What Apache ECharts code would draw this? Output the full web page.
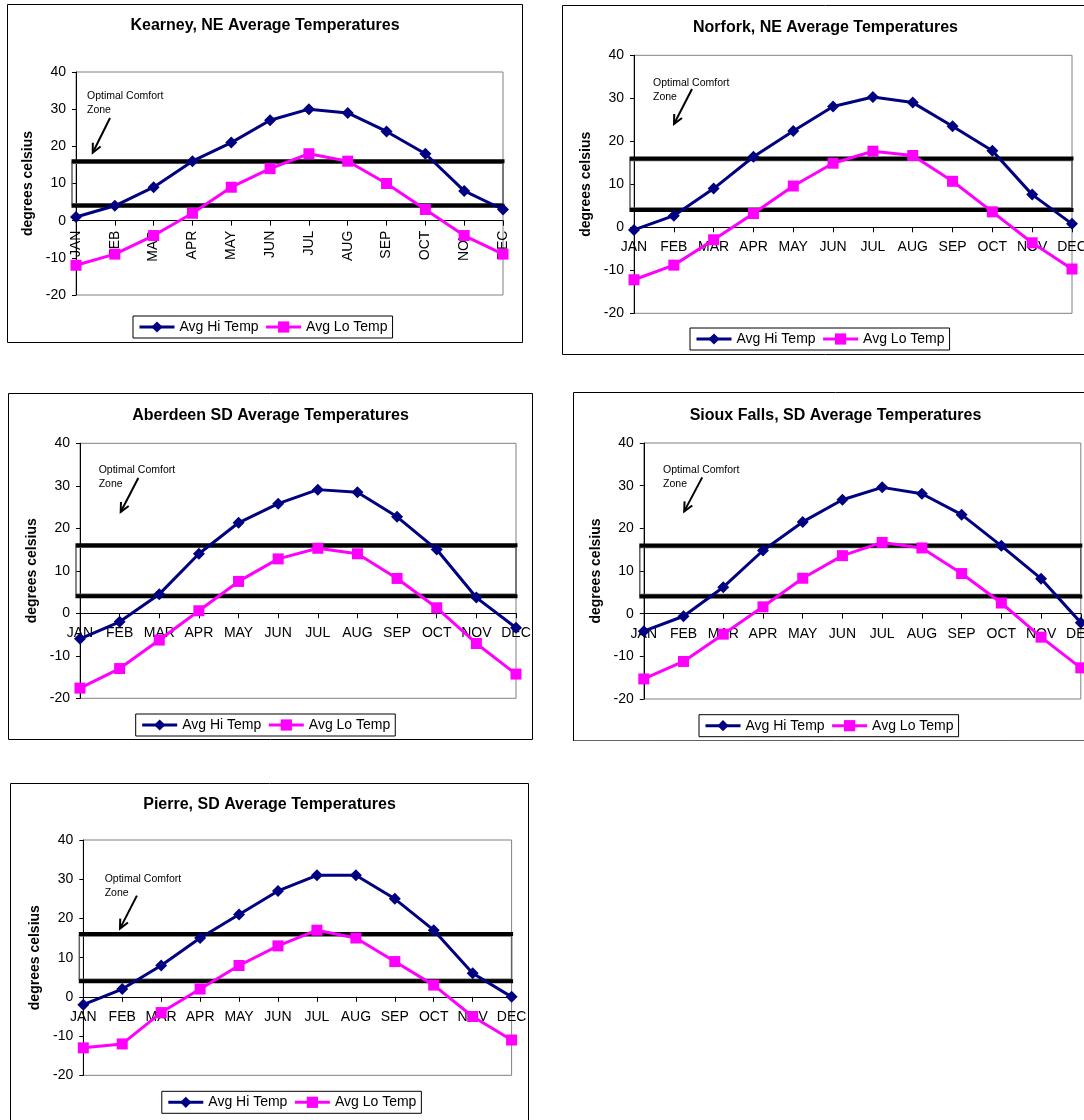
<!DOCTYPE html>
<html><head><meta charset="utf-8">
<script src="https://cdn.jsdelivr.net/npm/echarts@6/dist/echarts.min.js"></script>
<style>
html,body{margin:0;padding:0;background:#fff;}
body{width:1084px;height:1120px;overflow:hidden;position:relative;}
.box{position:absolute;}
</style>
</head><body>
<div id="c0" class="box"></div>
<div id="c1" class="box"></div>
<div id="c2" class="box"></div>
<div id="c3" class="box"></div>
<div id="c4" class="box"></div>
<script>
// ---------- DATA ----------
const months = ['JAN','FEB','MAR','APR','MAY','JUN','JUL','AUG','SEP','OCT','NOV','DEC'];
const seriesNames = ['Avg Hi Temp', 'Avg Lo Temp'];
const yAxisName = 'degrees celsius';
const annotationText = 'Optimal Comfort\nZone';
const comfortUpper = 16;
const comfortLower = 4;
const yMin = -20, yMax = 40, yStep = 10;

const kearneyTitle = 'Kearney, NE Average Temperatures';
const kearneyHi = [1, 4, 9, 16, 21, 27, 30, 29, 24, 18, 8, 3];
const kearneyLo = [-12, -9, -4, 2, 9, 14, 18, 16, 10, 3, -4, -9];

const norforkTitle = 'Norfork, NE Average Temperatures';
const norforkHi = [-0.6, 2.7, 9.0, 16.4, 22.4, 28.1, 30.3, 29.0, 23.5, 17.8, 7.6, 0.8];
const norforkLo = [-12.2, -8.8, -2.9, 3.2, 9.6, 14.9, 17.7, 16.7, 10.7, 3.6, -3.6, -9.7];

const aberdeenTitle = 'Aberdeen SD Average Temperatures';
const aberdeenHi = [-6.0, -2.0, 4.5, 14.0, 21.3, 25.8, 29.1, 28.5, 22.7, 15.0, 3.7, -3.4];
const aberdeenLo = [-17.6, -13.0, -6.3, 0.6, 7.5, 12.8, 15.3, 14.0, 8.2, 1.3, -7.1, -14.3];

const siouxTitle = 'Sioux Falls, SD Average Temperatures';
const siouxHi = [-4.1, -0.6, 6.2, 14.8, 21.5, 26.7, 29.6, 28.1, 23.2, 15.9, 8.2, -2.1];
const siouxLo = [-15.3, -11.2, -4.8, 1.6, 8.3, 13.6, 16.7, 15.4, 9.4, 2.5, -5.5, -12.7];

const pierreTitle = 'Pierre, SD Average Temperatures';
const pierreHi = [-2, 2, 8, 15, 21, 27, 31, 31, 25, 17, 6, 0];
const pierreLo = [-13, -12, -4, 2, 8, 13, 17, 15, 9, 3, -5, -11];

// ---------- LAYOUT (pixels, relative to each chart frame) ----------
const layouts = [
  {id:'c0', title:kearneyTitle, hi:kearneyHi, lo:kearneyLo, box:{x:7,y:4,w:516,h:339},
   grid:{l:69,t:68,w:427,h:223}, titleTop:14, legend:{l:126,t:312}, rotate:true,
   annot:{x:11,y:23.7}, arrow:{sx:34,sy:46,ex:16.7,ey:80.7}},
  {id:'c1', title:norforkTitle, hi:norforkHi, lo:norforkLo, box:{x:562,y:5,w:527,h:350},
   grid:{l:72,t:50.3,w:438,h:258}, titleTop:14.7, legend:{l:128,t:323}, rotate:false,
   annot:{x:19,y:28}, arrow:{sx:58,sy:33.7,ex:40,ey:68.7}},
  {id:'c2', title:aberdeenTitle, hi:aberdeenHi, lo:aberdeenLo, box:{x:8,y:393,w:525,h:347},
   grid:{l:72,t:50.3,w:436,h:255}, titleTop:15, legend:{l:127.7,t:321}, rotate:false,
   annot:{x:18.7,y:27}, arrow:{sx:58.3,sy:34.7,ex:40.7,ey:68.7}},
  {id:'c3', title:siouxTitle, hi:siouxHi, lo:siouxLo, box:{x:572.5,y:392.3,w:525,h:349.4},
   grid:{l:70.8,t:51,w:437,h:256}, titleTop:15.7, legend:{l:126,t:322.7}, rotate:false,
   annot:{x:19.3,y:27}, arrow:{sx:58.4,sy:34.4,ex:40.4,ey:68.4}},
  {id:'c4', title:pierreTitle, hi:pierreHi, lo:pierreLo, box:{x:10,y:782.7,w:519,h:345},
   grid:{l:73.3,t:57,w:428.3,h:235.3}, titleTop:13.6, legend:{l:151.8,t:308.3}, rotate:false,
   annot:{x:21.4,y:39}, arrow:{sx:53.6,sy:55.6,ex:36.7,ey:88.6}}
];

const FONT = 'Liberation Sans, Arial, sans-serif';
const HI_COLOR = '#000080';
const LO_COLOR = '#FF00FF';

function buildOption(L) {
  return {
    animation: false,
    textStyle: {fontFamily: FONT},
    title: {
      text: L.title, left: 'center', top: L.titleTop, padding: 0,
      textStyle: {fontFamily: FONT, fontSize: 16, fontWeight: 'bold', color: '#000', lineHeight: 16}
    },
    legend: {
      data: seriesNames, left: L.legend.l, top: L.legend.t, orient: 'horizontal',
      padding: [4, 5], itemGap: 6, itemWidth: 35, itemHeight: 14,
      borderColor: '#000', borderWidth: 1, backgroundColor: '#fff',
      lineStyle: {width: 3},
      textStyle: {fontFamily: FONT, fontSize: 14, color: '#000'}
    },
    grid: {
      left: L.grid.l, top: L.grid.t, width: L.grid.w, height: L.grid.h,
      show: true, borderColor: '#808080', borderWidth: 1, backgroundColor: '#fff',
      containLabel: false, outerBoundsMode: 'none'
    },
    xAxis: {
      type: 'category', data: months, boundaryGap: false, position: 'bottom', offset: 0,
      axisLine: {show: true, onZero: false, lineStyle: {color: '#000', width: 1}},
      axisTick: {show: true, length: 5, inside: false, alignWithLabel: true, lineStyle: {color: '#000'}},
      axisLabel: {interval: 0, rotate: L.rotate ? 90 : 0, margin: L.rotate ? 10 : 13,
                  hideOverlap: false, overflow: 'none',
                  fontFamily: FONT, fontSize: 14, color: '#000'},
      splitLine: {show: false}
    },
    yAxis: {
      type: 'value', min: yMin, max: yMax, interval: yStep,
      name: yAxisName, nameLocation: 'middle', nameGap: 40, nameRotate: 90,
      nameTextStyle: {fontFamily: FONT, fontSize: 14, fontWeight: 'bold', color: '#000'},
      axisLine: {show: true, lineStyle: {color: '#000', width: 1}},
      axisTick: {show: true, length: 4, inside: false, lineStyle: {color: '#000'}},
      axisLabel: {fontFamily: FONT, fontSize: 14, color: '#000', margin: 10},
      splitLine: {show: false}
    },
    series: [
      {name: seriesNames[0], type: 'line', data: L.hi, symbol: 'diamond', symbolSize: 12,
       lineStyle: {color: HI_COLOR, width: 3}, itemStyle: {color: HI_COLOR}, z: 3},
      {name: seriesNames[1], type: 'line', data: L.lo, symbol: 'rect', symbolSize: 11,
       lineStyle: {color: LO_COLOR, width: 3}, itemStyle: {color: LO_COLOR}, z: 3}
    ]
  };
}

function arrowHead(ex, ey, sx, sy, len, ang) {
  const dx = sx - ex, dy = sy - ey;
  const d = Math.sqrt(dx*dx + dy*dy);
  const ux = dx / d, uy = dy / d;
  const c = Math.cos(ang), s = Math.sin(ang);
  const a1 = [ex + len*(ux*c - uy*s), ey + len*(ux*s + uy*c)];
  const a2 = [ex + len*(ux*c + uy*s), ey + len*(-ux*s + uy*c)];
  return [a1, [ex, ey], a2];
}

layouts.forEach(function (L) {
  const el = document.getElementById(L.id);
  el.style.left = L.box.x + 'px';
  el.style.top = L.box.y + 'px';
  el.style.width = L.box.w + 'px';
  el.style.height = L.box.h + 'px';
  const chart = echarts.init(el, null, {renderer: 'canvas'});
  chart.setOption(buildOption(L));

  // move the category axis (line, ticks, labels) up to the zero line via the value scale
  const yZero = chart.convertToPixel({yAxisIndex: 0}, 0);
  const yBottom = chart.convertToPixel({yAxisIndex: 0}, yMin);
  chart.setOption({xAxis: {offset: -(yBottom - yZero)}});

  const yUp = chart.convertToPixel({yAxisIndex: 0}, comfortUpper);
  const yLo = chart.convertToPixel({yAxisIndex: 0}, comfortLower);
  const x0 = L.grid.l - 4.5;
  const x1 = L.grid.l + L.grid.w + 1.5;
  const gx = L.grid.l, gy = L.grid.t;
  const A = L.arrow;
  const sx = gx + A.sx, sy = gy + A.sy, ex = gx + A.ex, ey = gy + A.ey;

  chart.setOption({
    graphic: [
      {type: 'rect', z: 100, silent: true,
       shape: {x: 0.5, y: 0.5, width: L.box.w - 1, height: L.box.h - 1},
       style: {fill: null, stroke: '#000', lineWidth: 1}},
      {type: 'rect', z: 1, silent: true,
       shape: {x: x0 + 0.5, y: yUp + 2, width: x1 - x0 - 2, height: yLo - yUp - 4},
       style: {fill: null, stroke: '#606060', lineWidth: 1.5}},
      {type: 'line', z: 1, silent: true,
       shape: {x1: x0, y1: yUp, x2: x1, y2: yUp},
       style: {stroke: '#000', lineWidth: 4}},
      {type: 'line', z: 1, silent: true,
       shape: {x1: x0, y1: yLo, x2: x1, y2: yLo},
       style: {stroke: '#000', lineWidth: 4}},
      {type: 'text', z: 5, silent: true,
       x: gx + L.annot.x, y: gy + L.annot.y - 7,
       style: {text: annotationText, font: '10.5px ' + FONT, fill: '#000', lineHeight: 14,
               textAlign: 'left', textVerticalAlign: 'top'}},
      {type: 'polyline', z: 5, silent: true,
       shape: {points: [[sx, sy], [ex, ey]]},
       style: {stroke: '#000', lineWidth: 2, fill: null}},
      {type: 'polyline', z: 5, silent: true,
       shape: {points: arrowHead(ex, ey, sx, sy, 10, 0.45)},
       style: {stroke: '#000', lineWidth: 2, fill: null}}
    ]
  });
});
</script>
</body></html>
